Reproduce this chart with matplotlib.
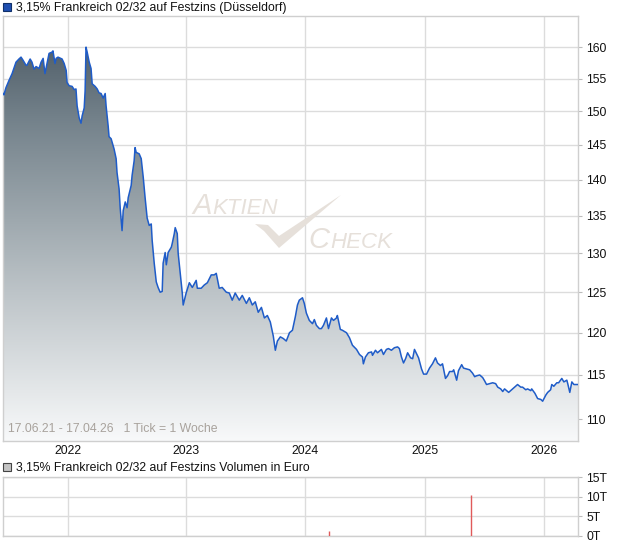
import numpy as np
import pandas as pd
import matplotlib
matplotlib.use("Agg")
import matplotlib.pyplot as plt
import matplotlib.dates as mdates
from matplotlib.colors import LinearSegmentedColormap
from matplotlib.patches import Polygon, Rectangle
from matplotlib.ticker import FixedLocator, NullLocator, FuncFormatter

plt.rcParams['font.family'] = ['Liberation Sans', 'DejaVu Sans']

# ---------------- data ----------------
start_date = "2021-06-17"
weeks = [0, 0.4, 1.3, 2.6, 4.0, 5.7, 7.0, 7.9, 8.8, 10.1, 10.5, 11.9, 12.7, 13.6, 14.5, 15.8,
         16.7, 17.6, 18.4, 19.3, 20.2, 21.5, 21.9, 22.8, 23.3, 24.1, 25.9, 26.8, 27.7, 28.1,
         29.0, 30.3, 31.2, 32.0, 32.5, 33.4, 34.2, 34.7, 35.6, 36.0, 36.4, 36.9, 37.8, 38.6,
         39.1, 40.4, 41.3, 42.1, 43.0, 43.9, 44.8, 45.2, 46.1, 46.5, 47.4, 48.7, 49.6, 50.0,
         50.9, 51.4, 52.2, 52.7, 53.6, 54.4, 54.9, 56.2, 56.6, 57.5, 57.9, 58.4, 59.7, 60.6,
         61.5, 62.3, 63.2, 64.1, 65.0, 65.4, 66.3, 67.2, 68.0, 68.9, 69.8, 70.2, 71.1, 71.6,
         72.4, 73.8, 74.2, 75.1, 75.5, 76.4, 76.8, 77.7, 78.6, 79.0, 80.3, 81.7, 83.0, 84.7,
         85.2, 86.9, 88.2, 89.6, 91.3, 92.6, 93.5, 94.8, 96.1, 97.9, 99.2, 100.5, 101.8, 103.6,
         104.9, 106.7, 108.0, 109.3, 110.6, 111.9, 113.3, 114.6, 115.9, 117.2, 118.5, 119.4,
         120.3, 121.6, 122.9, 124.2, 125.6, 126.9, 128.2, 129.1, 129.9, 131.3, 132.1, 133.0,
         134.3, 135.7, 136.5, 137.4, 138.7, 139.6, 140.5, 141.8, 142.7, 144.0, 144.9, 146.2,
         146.6, 147.9, 148.8, 150.6, 151.9, 153.2, 155.0, 156.3, 157.6, 158.0, 158.9, 160.2,
         161.6, 162.0, 163.3, 164.2, 165.9, 166.8, 168.1, 169.0, 170.3, 171.6, 173.0, 173.8,
         174.7, 175.6, 176.5, 177.4, 178.7, 179.6, 180.4, 181.3, 182.2, 183.5, 184.4, 185.7,
         187.0, 188.3, 189.6, 190.5, 191.8, 192.7, 194.0, 194.9, 195.8, 197.1, 197.6, 198.9,
         199.7, 201.1, 201.9, 203.3, 204.6, 205.9, 206.8, 207.6, 209.0, 210.3, 211.2, 212.0,
         213.4, 214.7, 216.0, 216.9, 218.2, 219.1, 219.9, 220.8, 221.7, 223.0, 224.3, 225.6,
         227.0, 227.8, 229.2, 230.0, 231.4, 231.8, 233.2, 234.4, 235.8, 236.6, 238.0, 238.8,
         240.1, 240.6, 241.5, 242.8, 243.6, 245.0, 245.9, 247.2, 247.6, 248.5, 249.4, 250.3,
         251.6, 252.1]
prices = [152.7, 152.5, 153.6, 154.7, 155.8, 157.6, 158.1, 158.4, 157.9, 157.1, 157.1, 158.1,
          157.6, 156.5, 156.9, 156.6, 157.6, 158.2, 155.8, 157.4, 159.0, 159.2, 159.4, 157.4,
          158.2, 158.4, 158.1, 157.4, 156.3, 154.4, 153.9, 153.8, 153.3, 153.4, 150.8, 149.0,
          148.2, 149.3, 150.5, 153.1, 160.0, 159.2, 157.6, 156.6, 154.2, 153.8, 153.4, 152.8,
          152.7, 152.0, 152.7, 150.8, 147.8, 146.2, 145.9, 144.4, 143.0, 141.0, 138.7, 136.0,
          133.0, 135.7, 136.9, 136.1, 137.5, 139.2, 140.6, 142.7, 144.6, 143.9, 143.7, 143.0,
          140.3, 137.5, 134.7, 133.7, 133.9, 131.7, 128.7, 126.3, 125.6, 125.0, 125.1, 128.7,
          130.1, 128.5, 130.1, 130.8, 131.3, 132.6, 133.4, 132.6, 130.0, 127.4, 124.9, 123.4,
          124.9, 126.2, 125.6, 126.5, 125.5, 125.5, 125.9, 126.2, 127.2, 127.2, 127.4, 125.5,
          125.6, 125.0, 124.9, 124.0, 124.9, 124.0, 124.6, 123.6, 124.3, 123.4, 123.8, 122.5,
          123.1, 121.8, 122.1, 121.3, 119.6, 117.9, 119.0, 119.5, 119.3, 119.0, 120.0, 120.3,
          122.0, 123.4, 124.0, 124.3, 123.6, 122.4, 121.5, 121.1, 121.6, 120.9, 120.5, 120.5,
          120.9, 121.8, 120.5, 121.8, 121.5, 121.8, 122.1, 120.4, 120.3, 120.0, 119.4, 118.5,
          118.0, 117.4, 117.1, 116.3, 117.1, 117.6, 117.7, 117.3, 117.9, 117.6, 118.0, 117.4,
          118.0, 118.1, 117.9, 118.2, 118.3, 118.1, 117.1, 116.4, 116.9, 117.6, 117.0, 116.9,
          118.0, 117.5, 117.0, 115.7, 115.1, 115.1, 115.8, 116.3, 117.0, 116.4, 116.1, 116.3,
          114.6, 114.9, 115.4, 115.4, 115.6, 114.4, 115.5, 116.2, 115.8, 115.7, 115.6, 115.2,
          114.8, 114.9, 115.0, 114.7, 114.3, 113.9, 114.0, 114.1, 114.0, 113.6, 113.4, 113.1,
          113.4, 113.2, 113.0, 113.3, 113.6, 113.9, 113.6, 113.6, 113.3, 113.4, 113.2, 113.4,
          112.9, 112.3, 112.2, 112.0, 112.7, 113.0, 113.3, 113.9, 113.7, 114.1, 114.1, 114.6,
          114.2, 114.4, 114.0, 113.0, 114.2, 113.9, 113.9, 113.9]
volume_weeks = [143, 205]
volumes = [1300, 10400]
total_weeks = 252.1

y_ticks = [110, 115, 120, 125, 130, 135, 140, 145, 150, 155, 160]
vol_ticks = [0, 5000, 10000, 15000]
years = [2022, 2023, 2024, 2025, 2026]

title_main = "3,15% Frankreich 02/32 auf Festzins (Düsseldorf)"
title_vol = "3,15% Frankreich 02/32 auf Festzins Volumen in Euro"
range_text = "17.06.21 - 17.04.26   1 Tick = 1 Woche"

# ---------------- figure ----------------
W, H = 620, 546
fig = plt.figure(figsize=(W / 100, H / 100), dpi=100)
fig.patch.set_facecolor("white")

def fx(px):
    return px / W

def fy(py):
    return 1 - py / H

t0 = pd.Timestamp(start_date)
dates = t0 + pd.to_timedelta(np.array(weeks) * 7, unit="D")
vdates = t0 + pd.to_timedelta(np.array(volume_weeks) * 7, unit="D")
t_end = t0 + pd.to_timedelta(total_weeks * 7, unit="D")
year_dates = [pd.Timestamp(f"{y}-01-01") for y in years]

grid_c = "#dcdcdc"
spine_c = "#cfcfcf"
fs = 8.8

ax = fig.add_axes([fx(3), fy(441), fx(578) - fx(3), fy(16) - fy(441)])
ax.set_yscale("log")
ax.set_xlim(t0, t_end)
ax.set_ylim(107.6, 165.1)

# gradient fill clipped under the price line
cmap = LinearSegmentedColormap.from_list(
    "g", [(0.0, "#f8f9fa"), (0.35, "#bdc4c8"), (0.75, "#75838c"), (1.0, "#45535e")], N=256)
grad = np.linspace(0, 1, 256).reshape(-1, 1)
im = ax.imshow(grad, extent=[0, 1, 0, 1], transform=ax.transAxes, origin="lower",
               aspect="auto", cmap=cmap, zorder=1)
poly = ax.fill_between(dates, prices, 100, facecolor="none", edgecolor="none", zorder=1)
im.set_clip_path(poly.get_paths()[0], transform=ax.transData)
ax.plot(dates, prices, color="#1f5cc8", lw=1.1, zorder=3)
ax.set_xlim(t0, t_end)
ax.set_ylim(107.6, 165.1)

ax.yaxis.set_major_locator(FixedLocator(y_ticks))
ax.yaxis.set_minor_locator(NullLocator())
ax.yaxis.set_major_formatter(FuncFormatter(lambda v, p: f"{v:.0f}"))
ax.yaxis.tick_right()
ax.tick_params(axis="y", which="both", length=3, color="#bbbbbb", labelsize=fs,
               pad=3, labelcolor="#111111")
ax.xaxis.set_major_locator(FixedLocator(mdates.date2num(year_dates)))
ax.xaxis.set_major_formatter(FuncFormatter(lambda v, p: mdates.num2date(v).strftime("%Y")))
ax.tick_params(axis="x", length=0, labelsize=fs, pad=3, labelcolor="#111111")
ax.grid(True, color=grid_c, lw=1, zorder=0)
ax.set_axisbelow(True)
for s in ax.spines.values():
    s.set_color(spine_c)
    s.set_linewidth(1)

ax.text(0.008, 0.015, range_text, transform=ax.transAxes, fontsize=fs,
        color="#a8a29c", ha="left", va="bottom", zorder=4)

# volume axes
ax2 = fig.add_axes([fx(3), fy(536), fx(578) - fx(3), fy(477) - fy(536)])
ax2.set_xlim(t0, t_end)
ax2.set_ylim(0, 15000)
ax2.vlines(vdates, 0, volumes, color="#e05a5a", lw=1.0, zorder=3)
ax2.yaxis.set_major_locator(FixedLocator(vol_ticks))
ax2.yaxis.set_major_formatter(FuncFormatter(lambda v, p: f"{v/1000:.0f}T"))
ax2.yaxis.tick_right()
ax2.tick_params(axis="y", length=3, color="#bbbbbb", labelsize=fs, pad=3,
                labelcolor="#111111")
ax2.xaxis.set_major_locator(FixedLocator(mdates.date2num(year_dates)))
ax2.tick_params(axis="x", length=0, labelbottom=False)
ax2.grid(True, color=grid_c, lw=1, zorder=0)
ax2.set_axisbelow(True)
for s in ax2.spines.values():
    s.set_color(spine_c)
    s.set_linewidth(1)

# titles with legend squares
fig.patches.append(Rectangle((fx(3), fy(11)), fx(8), fy(3) - fy(11), transform=fig.transFigure,
                             facecolor="#1f4fb0", edgecolor="#10306a", lw=0.8))
fig.text(fx(16), fy(7.5), title_main, fontsize=fs, color="#111111", ha="left", va="center")
fig.patches.append(Rectangle((fx(3), fy(471)), fx(8), fy(463) - fy(471), transform=fig.transFigure,
                             facecolor="#c4c4c4", edgecolor="#444444", lw=0.8))
fig.text(fx(16), fy(467.5), title_vol, fontsize=fs, color="#111111", ha="left", va="center")

# watermark
wm = "#e6e0da"
fig.text(fx(192), fy(214), "A", fontsize=21, style="italic", color=wm, ha="left",
         va="baseline", zorder=2)
fig.text(fx(212), fy(214), "KTIEN", fontsize=16, style="italic", color=wm, ha="left",
         va="baseline", zorder=2)
fig.text(fx(308), fy(248), "C", fontsize=21, style="italic", color=wm, ha="left",
         va="baseline", zorder=2)
fig.text(fx(330), fy(248), "HECK", fontsize=16, style="italic", color=wm, ha="left",
         va="baseline", zorder=2)
check = [(255, 224), (268, 225), (279, 236), (341, 195), (279, 248), (264, 231)]
fig.patches.append(Polygon([(fx(a), fy(b)) for a, b in check], closed=True,
                           transform=fig.transFigure, facecolor=wm, edgecolor="none",
                           zorder=2))

fig.savefig("out.png", dpi=100, facecolor="white")
